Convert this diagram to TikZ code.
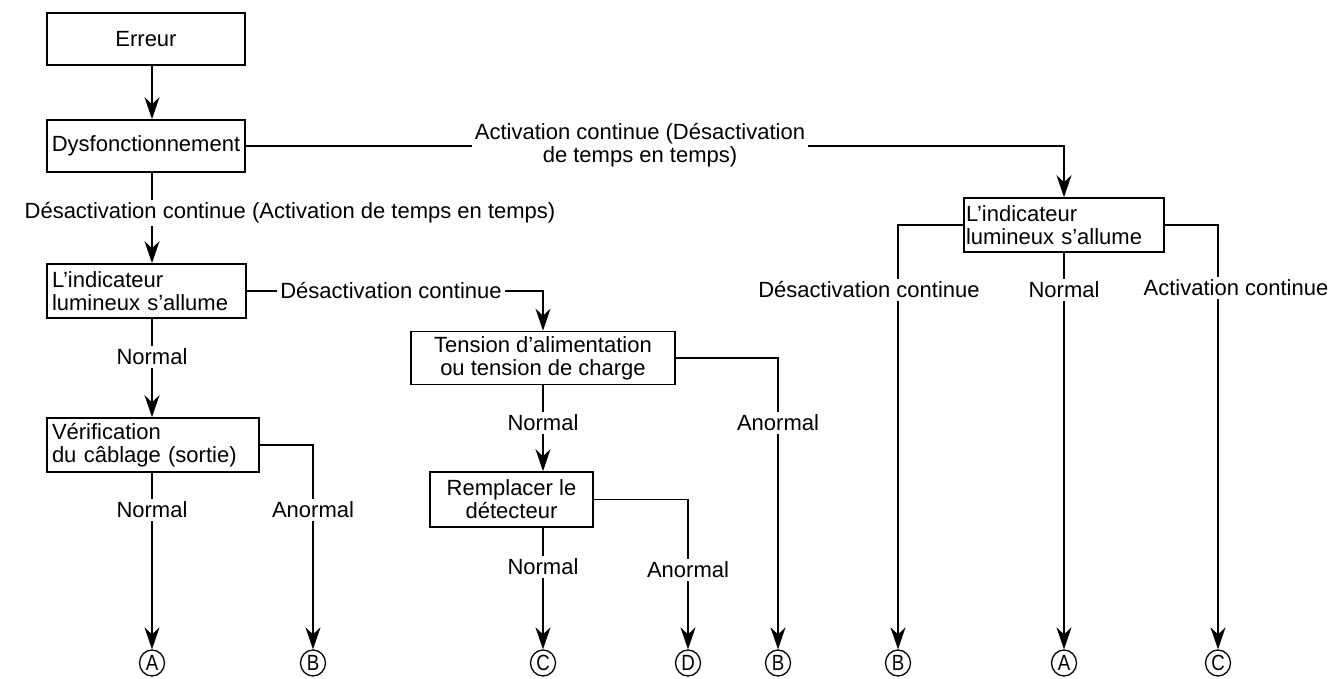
\documentclass[tikz,border=0pt]{standalone}
\usepackage{fontspec}
\setmainfont{Liberation Sans}
\newfontfamily\circfont[FakeStretch=0.85]{Liberation Sans}
\usetikzlibrary{arrows.meta,shapes.geometric}
\newcommand\myfs{\fontsize{22}{23}\selectfont}
\begin{document}
\begin{tikzpicture}[x=1pt,y=-1pt,
  ln/.style={line width=1.6pt},
  arr/.style={ln,-{Stealth[length=22pt,width=15pt,inset=7pt]}},
  box/.style={draw,line width=1.6pt,inner sep=3pt,font=\myfs,align=center},
  lbox/.style={box,align=left},
  lbl/.style={fill=white,inner sep=3pt,font=\myfs,align=center},
  circ/.style={draw,ellipse,line width=1.3pt,minimum width=25pt,minimum height=26pt,inner sep=0pt,font=\circfont\fontsize{22}{22}\selectfont}]
\useasboundingbox (0,0) rectangle (1334,679);
\coordinate (cx) at (152,0);
% boxes
\node[box,minimum width=198pt,minimum height=52pt] (err) at (146,39) {Erreur};
\node[box,minimum width=198pt,minimum height=52pt] (dys) at (146,146) {Dysfonctionnement};
\node[lbox,minimum width=199pt,minimum height=54pt,text width=189pt] (ind1) at (146.5,291) {L’indicateur\\lumineux s’allume};
\node[lbox,minimum width=212pt,minimum height=54pt,text width=202pt] (ver) at (153,445) {Vérification\\du câblage (sortie)};
\node[box,minimum width=264pt,minimum height=53pt] (ten) at (543,358) {Tension d’alimentation\\ou tension de charge};
\node[box,minimum width=163pt,minimum height=55pt] (rem) at (511.5,499.5) {Remplacer le\\détecteur};
\node[lbox,minimum width=200pt,minimum height=54pt,text width=196pt,inner sep=2pt] (ind2) at (1064,225) {L’indicateur\\lumineux s’allume};
% end circles
\node[circ] (A1) at (152,663) {A};
\node[circ] (B1) at (313,663) {B};
\node[circ] (C1) at (543,663) {C};
\node[circ] (D1) at (688,663) {D};
\node[circ] (B2) at (778,663) {B};
\node[circ] (B3) at (898,663) {B};
\node[circ] (A2) at (1064,663) {A};
\node[circ] (C2) at (1218,663) {C};
% connectors
\draw[arr] (err.south -| cx) -- (dys.north -| cx);
\draw[arr] (dys.east) -| (ind2.north);
\draw[arr] (dys.south -| cx) -- (ind1.north -| cx);
\draw[arr] (ind1.east) -| (ten.north);
\draw[arr] (ind1.south -| cx) -- (ver.north -| cx);
\draw[arr] (ver.south -| cx) -- (A1.north);
\draw[arr] (ver.east) -| (B1.north);
\draw[arr] (ten.south) -- (ten.south |- rem.north);
\draw[arr] (ten.east) -| (B2.north);
\draw[arr] (rem.south -| ten.south) -- (C1.north);
\draw[arr] (rem.east) -| (D1.north);
\draw[arr] (ind2.west) -| (B3.north);
\draw[arr] (ind2.south) -- (A2.north);
\draw[arr] (ind2.east) -| (C2.north);
% labels
\node[lbl] (l1) at (640,145) {Activation continue (Désactivation\\de temps en temps)};
\node[lbl] (l2) at (290,213) {Désactivation continue (Activation de temps en temps)};
\node[lbl] (l3) at (391,291) {Désactivation continue};
\node[lbl] (l4) at (152,357) {Normal};
\node[lbl] (l5) at (152,510) {Normal};
\node[lbl] (l6) at (313,510) {Anormal};
\node[lbl] (l7) at (543,423) {Normal};
\node[lbl] (l8) at (778,423) {Anormal};
\node[lbl] (l9) at (543,567) {Normal};
\node[lbl] (l10) at (688,570) {Anormal};
\node[lbl] (l11) at (869,290) {Désactivation continue};
\node[lbl] (l12) at (1064,290) {Normal};
\node[lbl] (l13) at (1236,288) {Activation continue};
\end{tikzpicture}
\end{document}
